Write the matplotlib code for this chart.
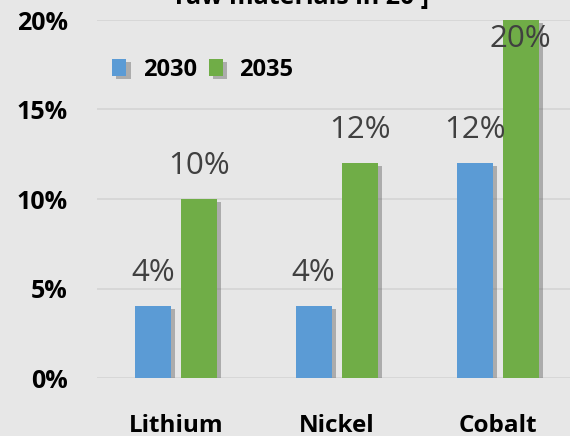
import numpy as np
import matplotlib
matplotlib.use("Agg")
import matplotlib.pyplot as plt
import matplotlib.patheffects as pe

categories = ["Lithium", "Nickel", "Cobalt"]
years = ["2030", "2035"]
share_2030 = [4, 4, 12]
share_2035 = [10, 12, 20]
yticks = [0, 5, 10, 15, 20]

bg = "#e7e7e7"
colors = ["#5b9bd5", "#70ad47"]

plt.rcParams["font.family"] = ["Open Sans", "DejaVu Sans"]

fig = plt.figure(figsize=(5.7, 4.36), dpi=100, facecolor=bg)
ax = fig.add_axes([0.170, 1 - 378 / 436, 0.830, (378 - 20) / 436])
ax.set_facecolor(bg)

x = np.arange(len(categories))
w = 0.224
off = 0.143
shadow = [pe.SimplePatchShadow(offset=(3, -2), shadow_rgbFace="#555555", alpha=0.4), pe.Normal()]

for i, (vals, c, yr) in enumerate(zip([share_2030, share_2035], colors, years)):
    pos = x + (off if i else -off)
    bars = ax.bar(pos, vals, width=w, color=c, label=yr, zorder=3, path_effects=shadow)
    for b, v in zip(bars, vals):
        cx = b.get_x() + b.get_width() / 2
        if v >= yticks[-1]:
            ax.annotate(f"{v}%", (cx, v), xytext=(0, -3), textcoords="offset points",
                        ha="center", va="top", fontsize=22.5, color="#404040", zorder=5)
        else:
            ax.annotate(f"{v}%", (cx, v), xytext=(0, 13), textcoords="offset points",
                        ha="center", va="bottom", fontsize=22.5, color="#404040", zorder=5)

ax.set_xlim(-0.49, 2.45)
ax.set_ylim(0, 20)
ax.set_yticks(yticks)
ax.set_yticklabels([f"{t}%" for t in yticks], fontsize=18, fontweight="bold")
ax.set_xticks(x)
ax.set_xticklabels(categories, fontsize=17.5, fontweight="bold")
ax.tick_params(axis="y", length=0, pad=21)
ax.tick_params(axis="x", length=0, pad=26)
ax.grid(axis="y", color="#d4d4d4", linewidth=1.2, zorder=0)
for s in ax.spines.values():
    s.set_visible(False)

ax.legend(loc="center left", bbox_to_anchor=(91 / 570, 1 - 70 / 436), bbox_transform=fig.transFigure,
          ncol=2, frameon=False, handlelength=0.6, handleheight=0.75, handletextpad=0.7,
          columnspacing=0.5, prop={"size": 17, "weight": "bold"})

fig.text(0.53, 1 - 4 / 436, "Recycled content in batteries:\nraw materials in 20 ]",
         ha="center", va="baseline", fontsize=18, fontweight="bold", color="black")

fig.savefig("out.png", dpi=100, facecolor=bg)
